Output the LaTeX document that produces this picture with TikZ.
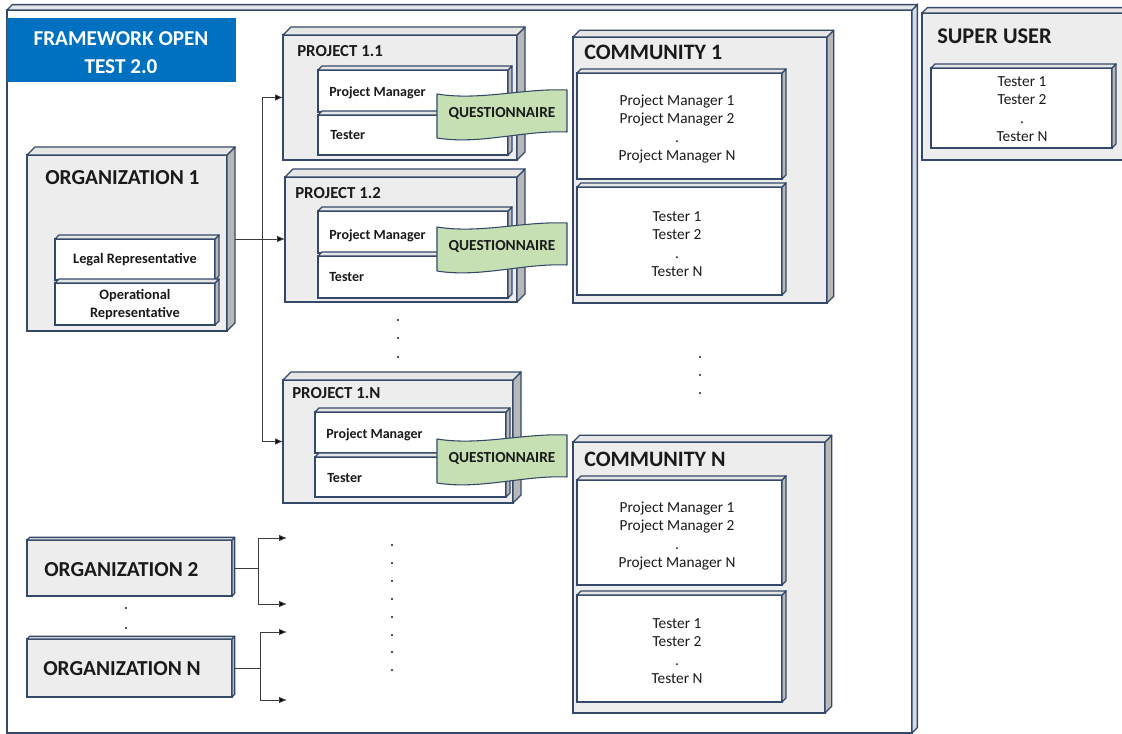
\documentclass[tikz,border=0pt]{standalone}
\usepackage{fontspec}
\setmainfont{Carlito}
\usetikzlibrary{calc,fit,arrows.meta}

\definecolor{edge}{HTML}{34496A}
\definecolor{face}{HTML}{EDEDED}
\definecolor{side}{HTML}{B8B8B8}
\definecolor{topface}{HTML}{E6E6E6}
\definecolor{frameside}{HTML}{D5DCE5}
\definecolor{fwblue}{HTML}{0070C0}
\definecolor{qgreen}{HTML}{C6E0B4}
\definecolor{ink}{HTML}{1A1A1A}
\definecolor{wire}{HTML}{3C3C3C}

\tikzset{
  x=0.75pt, y=-0.75pt,
  slab/.style={draw=edge, line width=1pt, fill=face, inner sep=0pt, outer sep=0pt},
  card/.style={slab, fill=white},
  framebox/.style={slab, fill=white},
  sidefill/.style={draw=edge, line width=1pt, fill=side, line join=round},
  topfill/.style={draw=edge, line width=1pt, fill=topface, line join=round},
  bigtitle/.style={font=\bfseries\fontsize{16}{19}\selectfont, text=ink, anchor=west, inner sep=0pt, text height=0.64em, text depth=0pt},
  projtitle/.style={bigtitle, font=\bfseries\fontsize{12.6}{15}\selectfont},
  role/.style={font=\bfseries\fontsize{10.5}{13.5}\selectfont, text=ink, anchor=west, inner sep=0pt, text height=0.64em, text depth=0pt},
  rolec/.style={font=\bfseries\fontsize{10.8}{13.5}\selectfont, text=ink, inner sep=0pt, align=center},
  list/.style={font=\fontsize{11.5}{13.9}\selectfont, text=ink, inner sep=0pt, align=center},
  qbox/.style={draw=edge, line width=0.8pt, fill=qgreen, line join=round},
  qtext/.style={font=\bfseries\fontsize{11.5}{14}\selectfont, text=ink, inner sep=0pt},
  wireline/.style={draw=wire, line width=0.7pt},
  arrowline/.style={wireline, -{Latex[length=6pt,width=5pt,fill=black]}},
  dotmark/.style={fill=ink},
}

% a box with a visible top face and right face: style, name, x1, y1, x2, y2, depth, side style
\newcommand\solidbox[8]{%
  \node[#1, fit={(#3,#4) (#5,#6)}] (#2) {};
  \filldraw[#8] (#2.north east) -- ++(#7,#7) -- ($(#2.south east)+(#7,#7)$) -- (#2.south east) -- cycle;
  \filldraw[topfill] (#2.north west) -- ++(#7,#7) -- ($(#2.north east)+(#7,#7)$) -- (#2.north east) -- cycle;
}

% wavy green questionnaire banner: name, left x, top y
\newcommand\questionnaire[3]{%
  \filldraw[qbox] (#2,#3) .. controls (#2+43,#3+7) and (#2+87,#3-6) .. (#2+130,#3-4)
     -- (#2+130,#3+38) .. controls (#2+87,#3+36) and (#2+43,#3+51) .. (#2,#3+44) -- cycle;
  \node[qtext] (#1) at (#2+65,#3+19) {QUESTIONNAIRE};
}

\begin{document}
\begin{tikzpicture}
\clip (0,0) rectangle (1122,734);
\fill[white] (0,0) rectangle (1122,734);

% outer framework
\solidbox{framebox}{frame}{7}{10}{912}{733}{4pt}{draw=edge, line width=1pt, fill=frameside}
\node[fit={(7,18) (236,82)}, fill=fwblue, inner sep=0pt] (fwlabel) {};
\node[font=\bfseries\fontsize{15.9}{21}\selectfont, text=white, align=center, inner sep=0pt] (fwtext) at (121,53) {FRAMEWORK OPEN\\TEST 2.0};

% super user
\solidbox{slab}{super}{922}{13}{1135}{160}{4pt}{sidefill}
\node[bigtitle, font=\bfseries\fontsize{16.8}{20}\selectfont] (supertitle) at (937,39) {SUPER USER};
\solidbox{card}{superlist}{931}{68}{1112}{148}{3pt}{sidefill}
\node[list] (superusers) at (1022,109) {Tester 1\\Tester 2\\.\\Tester N};

% organization 1
\solidbox{slab}{org1}{27}{155}{227}{331}{6pt}{sidefill}
\node[bigtitle] (org1title) at (45,180) {ORGANIZATION 1};
\solidbox{card}{legal}{55}{239}{215}{280}{3pt}{sidefill}
\node[rolec] (legaltext) at (135,260) {Legal Representative};
\solidbox{card}{oper}{55}{283}{215}{325}{3pt}{sidefill}
\node[rolec] (opertext) at (135,305) {Operational\\Representative};

% projects
\solidbox{slab}{p11}{283}{35}{517}{160}{6pt}{sidefill}
\node[projtitle] (p11title) at (297,52) {PROJECT 1.1};
\solidbox{card}{p11pm}{318}{70}{508}{112}{3pt}{sidefill}
\node[role] (p11pmtext) at (329,92) {Project Manager};
\solidbox{card}{p11t}{318}{115}{508}{155}{3pt}{sidefill}
\node[role] (p11ttext) at (330,135) {Tester};
\questionnaire{q11}{437}{94}

\solidbox{slab}{p12}{285}{177}{517}{302}{6pt}{sidefill}
\node[projtitle] (p12title) at (295,194) {PROJECT 1.2};
\solidbox{card}{p12pm}{318}{211}{508}{253}{3pt}{sidefill}
\node[role] (p12pmtext) at (329,235) {Project Manager};
\solidbox{card}{p12t}{318}{256}{508}{298}{3pt}{sidefill}
\node[role] (p12ttext) at (329,277) {Tester};
\questionnaire{q12}{437}{227}

\solidbox{slab}{p1N}{283}{380}{513}{503}{6pt}{sidefill}
\node[projtitle] (p1Ntitle) at (292,394) {PROJECT 1.N};
\solidbox{card}{p1Npm}{315}{412}{506}{453}{3pt}{sidefill}
\node[role] (p1Npmtext) at (326,434) {Project Manager};
\solidbox{card}{p1Nt}{315}{457}{506}{497}{3pt}{sidefill}
\node[role] (p1Nttext) at (327,478) {Tester};
\questionnaire{q1N}{437}{439}

% communities
\solidbox{slab}{c1}{573}{37}{827}{303}{5pt}{sidefill}
\node[bigtitle, font=\bfseries\fontsize{16.5}{20}\selectfont] (c1title) at (584,55) {COMMUNITY 1};
\solidbox{card}{c1pm}{577}{73}{782}{179}{3pt}{sidefill}
\node[list] (c1pmlist) at (677,129) {Project Manager 1\\Project Manager 2\\.\\Project Manager N};
\solidbox{card}{c1t}{577}{187}{782}{295}{3pt}{sidefill}
\node[list] (c1tlist) at (677,244) {Tester 1\\Tester 2\\.\\Tester N};

\solidbox{slab}{cN}{573}{442}{825}{713}{5pt}{sidefill}
\node[bigtitle, font=\bfseries\fontsize{16.5}{20}\selectfont] (cNtitle) at (584,462) {COMMUNITY N};
\solidbox{card}{cNpm}{577}{480}{782}{585}{3pt}{sidefill}
\node[list] (cNpmlist) at (677,536) {Project Manager 1\\Project Manager 2\\.\\Project Manager N};
\solidbox{card}{cNt}{577}{595}{782}{702}{3pt}{sidefill}
\node[list] (cNtlist) at (677,651) {Tester 1\\Tester 2\\.\\Tester N};

% further organizations
\solidbox{slab}{org2}{27}{540}{232}{596}{2pt}{sidefill}
\node[bigtitle] (org2title) at (44,572) {ORGANIZATION 2};
\solidbox{slab}{orgN}{27}{639}{232}{697}{2pt}{sidefill}
\node[bigtitle] (orgNtitle) at (43,671) {ORGANIZATION N};

% connectors from organization 1 to its projects
\coordinate (j1) at (262,239);
\draw[wireline] ($(org1.east)+(6pt,3pt)$) -- (j1);
\draw[arrowline] (j1) -- (j1 -| p12.west);
\draw[arrowline] (j1) |- (p11.west);
\draw[arrowline] (j1) |- (p1N.west);

% connectors from the other organizations
\path (org2.east) ++(20pt,0pt) coordinate (j2);
\coordinate (o2a) at (287,538);
\coordinate (o2b) at (287,604);
\draw[wireline] ($(org2.east)+(1.5pt,0pt)$) -- (j2);
\draw[arrowline] (j2) |- (o2a);
\draw[arrowline] (j2) |- (o2b);

\path (orgN.east) ++(21pt,0pt) coordinate (j3);
\coordinate (ona) at (287,632);
\coordinate (onb) at (287,700);
\draw[wireline] ($(orgN.east)+(1.5pt,0pt)$) -- (j3);
\draw[arrowline] (j3) |- (ona);
\draw[arrowline] (j3) |- (onb);

% ellipsis dots
\foreach \yy in {320,338,357} \fill[dotmark] (398,\yy) circle (0.9pt);
\foreach \yy in {357,375,393} \fill[dotmark] (700,\yy) circle (0.9pt);
\foreach \yy in {545,563,581,599,617,635,652,670} \fill[dotmark] (392,\yy) circle (0.9pt);
\foreach \yy in {608,628} \fill[dotmark] (126,\yy) circle (0.9pt);
\end{tikzpicture}
\end{document}
